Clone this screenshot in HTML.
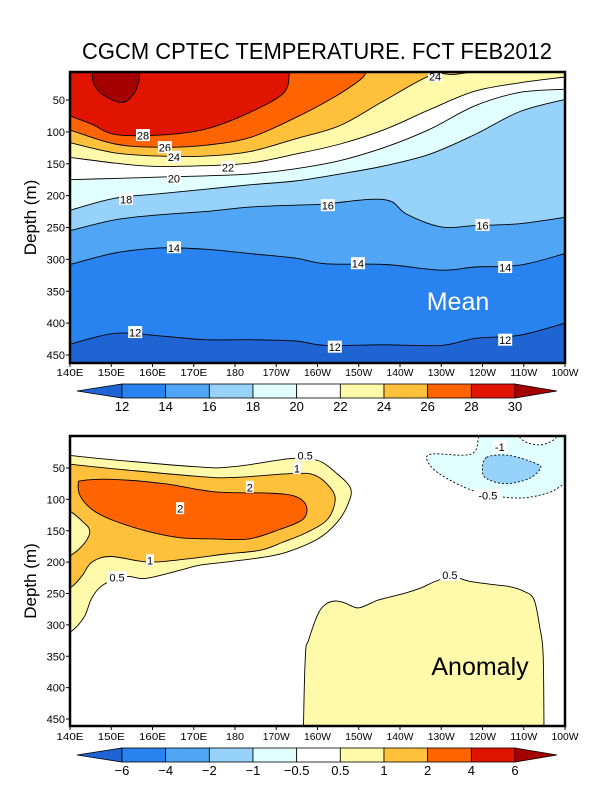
<!DOCTYPE html>
<html><head><meta charset="utf-8">
<style>
html,body{margin:0;padding:0;background:#fff;}
svg{display:block;font-family:"Liberation Sans",sans-serif;}
</style></head>
<body>
<svg id="chart" width="600" height="800" viewBox="0 0 600 800" xmlns="http://www.w3.org/2000/svg">
<text x="317" y="59" text-anchor="middle" font-size="23" textLength="470" lengthAdjust="spacingAndGlyphs">CGCM CPTEC TEMPERATURE. FCT FEB2012</text>
<defs>
<clipPath id="clipTop"><rect x="70" y="72" width="495" height="291"/></clipPath>
<clipPath id="clipBot"><rect x="70" y="436" width="495" height="290"/></clipPath>
</defs>
<g id="top"></g>
<g id="bot"></g>
</svg>
<script>
// ---------- data ----------
const lonTicks = [140,150,160,170,180,190,200,210,220,230,240,250,260];
const lonTickLabels = ["140E","150E","160E","170E","180","170W","160W","150W","140W","130W","120W","110W","100W"];
const depthTicks = [50,100,150,200,250,300,350,400,450];

// Mean: isotherm levels and their [lon, depth] points
const meanLevels = [12,14,16,18,20,22,24,26,28,30];
const iso12 = [[140,433],[150.9,416],[161.8,420],[172.7,426],[183.6,426],[194.6,428],[202,435],[216.4,434],[230,435],[238.2,424],[249.1,419],[260,400]];
const iso14 = [[140,308],[150.9,290],[161.8,282],[172.7,284],[183.6,291],[194.6,298],[202,307],[216.4,308],[230,317],[238.2,312],[249.1,309],[260,291]];
const iso16 = [[140,255],[150.9,238],[161.8,230],[172.7,225],[183.6,218],[194.6,215],[202,213],[212.3,206],[217.9,209],[221.6,229],[230,249],[238.2,247],[249.1,244],[260,234]];
const iso18 = [[140,223],[150.9,204],[161.8,197],[172.7,190],[183.6,183],[194.6,177],[205.5,166],[216.4,153],[227.2,135],[238.2,104],[249.1,68],[260,49]];
const iso20 = [[140,175],[150.9,173],[161.8,171],[172.7,169],[183.6,166],[194.6,158],[205.5,145],[216.4,124],[227.2,96],[238.2,59],[249.1,38],[260,33]];
const iso22 = [[140,140],[150.9,149],[160.2,154],[172.7,153],[183.6,149],[194.6,135],[205.5,119],[216.4,96],[227.2,65],[238.2,36],[249.1,23],[260,14]];
const iso24 = [[140,117],[150.9,133],[161.8,138],[172.7,138],[183.6,131],[194.6,111],[205.5,90],[215.9,52],[227.2,12],[233,10],[237.5,6]];
const iso26 = [[140,97],[150.9,119],[161.8,124],[172.7,121],[183.6,109],[194.6,78],[203.9,46],[210.4,18],[211.8,6]];
const iso28 = [[140,75],[145.3,88],[150.9,104],[161.8,105],[172.7,96],[183.4,70],[191.8,39],[193.2,6]];
const iso30 = [[145.3,6],[145.8,25],[148,42],[152.6,54],[155.5,40],[156.7,20],[156.9,6]];
const meanIsos = [iso12,iso14,iso16,iso18,iso20,iso22,iso24,iso26,iso28,iso30];
const meanColors = ["#1e64d2","#2882f0","#50a5f5","#96d2fa","#e1ffff","#ffffff","#fffaaa","#ffc03c","#ff6400","#e11400","#a50000"];
const meanLabels = [[157.7,105,"28"],[163,124,"26"],[165.2,139,"24"],[178.3,155,"22"],[165.2,172,"20"],[153.6,205,"18"],[202.5,215,"16"],[240,246,"16"],[165.2,281,"14"],[209.8,306,"14"],[245.5,312,"14"],[155.8,414,"12"],[204.2,437,"12"],[245.5,426,"12"],[228.5,12,"24"]];
const meanBarLabels = ["12","14","16","18","20","22","24","26","28","30"];

// Anomaly: closed contour regions [lon, depth] (points outside the frame close regions along edges)
const anom05 = [[140,30],[170.4,48],[179.6,48],[193.6,35],[200.1,38],[204.7,59],[208,82],[207.5,106],[204.7,137],[200.1,163],[192.6,184],[187.1,192],[177.8,200],[171.3,205],[166.6,213],[158.3,226],[153.6,223],[148.1,236],[145.3,257],[143.4,288],[140,312],[134,330],[134,20]];
const anom1 = [[140,44],[170.4,63],[179.6,65],[193.6,59],[199.2,61],[202.9,80],[204.3,101],[202.4,132],[197.3,153],[191.7,168],[186.2,181],[177.8,187],[169.4,194],[159.2,200],[149.9,191],[145.3,200],[143,221],[140,241],[134,255],[134,35]];
const anom1Pocket = [[140,119],[143,135],[144.8,150],[143.5,170],[140,190],[136,200],[136,110]];
const anom2 = [[142,75],[143,70],[149.9,68],[162.9,75],[175,88],[188,90],[194.5,95],[197.3,111],[196.4,132],[190.8,148],[183.4,163],[175,163],[166.6,161],[158.3,150],[149.9,132],[145.3,116],[142.5,95]];
const anom05Deep = [[196.6,462],[197.1,346],[197.8,325],[200.1,283],[202,267],[204.3,262],[206.6,265],[209.8,273],[213.1,265],[214.9,260],[221.4,249],[225.1,241],[228.8,230],[232.5,223],[237.2,231],[242.8,236],[246.5,239],[250.2,247],[252.5,260],[253.9,304],[254.7,346],[254.9,462],[254.9,520],[196.6,520]];
const anomNeg05 = [[239.1,0],[237.2,28],[227.5,28],[227,43],[230.7,64],[238.6,88],[248.4,98],[255.8,90],[259.5,77],[262,72],[268,60],[268,-20],[240,-20]];
const anomNeg05Pocket = [[249,0],[251,10],[254,13],[256.5,8],[257.8,0],[256,-15],[250,-15]];
const anomNeg1 = [[241,33],[246.5,30],[253,43],[254,51],[251.2,67],[245.6,75],[241,67],[240,54]];
const anomColors = ["#1e64d2","#2882f0","#50a5f5","#96d2fa","#e1ffff","#ffffff","#fffaaa","#ffc03c","#ff6400","#e11400","#a50000"];
const anomLabels = [[197,29,"0.5"],[195,50,"1"],[183.6,80,"2"],[166.7,114,"2"],[159.4,197,"1"],[151.4,224,"0.5"],[232.1,220,"0.5"],[244.2,16,"-1"],[241.3,93,"-0.5"]];
const anomBarLabels = ["\u22126","\u22124","\u22122","\u22121","\u22120.5","0.5","1","2","4","6"];

// ---------- helpers ----------
const NS="http://www.w3.org/2000/svg";
function mk(tag,attrs,parent){const e=document.createElementNS(NS,tag);for(const k in attrs)e.setAttribute(k,attrs[k]);parent.appendChild(e);return e;}
const X0=70,X1=565;
function xS(lon){return X0+(lon-140)*(X1-X0)/120;}
function yTop(d){return 100+(d-50)*0.6375;}
function yBot(d){return 468+(d-50)*0.6275;}
function smooth(pts,closed){
  const n=pts.length;let s="M"+pts[0][0].toFixed(1)+","+pts[0][1].toFixed(1);
  const m=closed?n:n-1;
  for(let i=0;i<m;i++){
    const g=j=>closed?pts[(j+n)%n]:pts[Math.max(0,Math.min(n-1,j))];
    const p0=g(i-1),p1=g(i),p2=g(i+1),p3=g(i+2);
    const c1=[p1[0]+(p2[0]-p0[0])/6,p1[1]+(p2[1]-p0[1])/6];
    const c2=[p2[0]-(p3[0]-p1[0])/6,p2[1]-(p3[1]-p1[1])/6];
    s+=`C${c1[0].toFixed(1)},${c1[1].toFixed(1)} ${c2[0].toFixed(1)},${c2[1].toFixed(1)} ${p2[0].toFixed(1)},${p2[1].toFixed(1)}`;
  }
  return closed?s+"Z":s;
}
function axes(g,yS,top,bottom,tickY){
  mk("rect",{x:X0,y:top,width:X1-X0,height:bottom-top,fill:"none",stroke:"#000","stroke-width":2.5},g);
  lonTicks.forEach((l,i)=>{
    const t=mk("text",{x:xS(l),y:tickY,"text-anchor":"middle","font-size":10.5,textLength:i==4?18:27,lengthAdjust:"spacingAndGlyphs"},g);
    t.textContent=lonTickLabels[i];
    
    
    mk("line",{x1:xS(l),x2:xS(l),y1:bottom,y2:bottom+4,stroke:"#000"},g);
  });
  depthTicks.forEach(d=>{
    const t=mk("text",{x:65,y:yS(d)+4,"text-anchor":"end","font-size":11},g);
    t.textContent=d;
    
    
    mk("line",{x1:X0-4,x2:X0,y1:yS(d),y2:yS(d),stroke:"#000"},g);
  });
  const yt=mk("text",{x:0,y:0,"text-anchor":"middle","font-size":17,transform:`translate(36,${(top+bottom)/2}) rotate(-90)`},g);
  yt.textContent="Depth (m)";
  
  
}
function colorbar(g,y,colors,labels){
  const xL=77,xR=557,b0=122,bw=(515-b0)/9,h=14;
  const lt=mk("polygon",{points:`${xL},${y+h/2} ${b0},${y} ${b0},${y+h}`,fill:colors[0],stroke:"#000","stroke-width":0.8},g);
  
  
  for(let i=0;i<9;i++){
    const r=mk("rect",{x:b0+i*bw,y:y,width:bw,height:h,fill:colors[i+1],stroke:"#000","stroke-width":0.8},g);
    
    
  }
  const rt=mk("polygon",{points:`${b0+9*bw},${y} ${xR},${y+h/2} ${b0+9*bw},${y+h}`,fill:colors[10],stroke:"#000","stroke-width":0.8},g);
  
  
  labels.forEach((s,i)=>{
    const t=mk("text",{x:b0+i*bw,y:y+h+13,"text-anchor":"middle","font-size":13},g);
    t.textContent=s;
    
    
  });
}
function label(g,x,y,s){
  const w=s.length*6+2;
  const r=mk("rect",{x:x-w/2,y:y-6,width:w,height:12,fill:"#fff"},g);
  
  
  const t=mk("text",{x:x,y:y+4.5,"text-anchor":"middle","font-size":11},g);
  t.textContent=s;
  
  
}

// ---------- mean panel ----------
const gT=document.getElementById("top");
const cT=mk("g",{"clip-path":"url(#clipTop)"},gT);
mk("rect",{x:X0,y:72,width:X1-X0,height:291,fill:meanColors[0]},cT);
meanIsos.forEach((iso,k)=>{
  const p=iso.map(q=>[xS(q[0]),yTop(q[1])]);
  const last=p[p.length-1],first=p[0];
  const f=mk("path",{d:smooth(p,false)+`L${last[0]+(last[0]>=X1-1?5:0)},60 L${first[0]-(first[0]<=X0+1?5:0)},60Z`,fill:meanColors[k+1]},cT);
  
  
});
meanIsos.forEach((iso,k)=>{
  const p=iso.map(q=>[xS(q[0]),yTop(q[1])]);
  const l=mk("path",{d:smooth(p,false),fill:"none",stroke:"#000","stroke-width":0.9},cT);
  
  
});
meanLabels.forEach(q=>label(cT,xS(q[0]),yTop(q[1]),q[2]));
const mt=mk("text",{x:458,y:310,"text-anchor":"middle","font-size":25,fill:"#fff"},gT);
mt.textContent="Mean";


axes(gT,yTop,72,363,376);
colorbar(gT,384,meanColors,meanBarLabels);

// ---------- anomaly panel ----------
const gB=document.getElementById("bot");
const cB=mk("g",{"clip-path":"url(#clipBot)"},gB);
mk("rect",{x:X0,y:436,width:X1-X0,height:290,fill:"#fff"},cB);
function region(pts,fill,name,dashed){
  const p=pts.map(q=>[xS(q[0]),yBot(q[1])]);
  const r=mk("path",{d:smooth(p,true),fill:fill,stroke:"#000","stroke-width":0.9,"stroke-dasharray":dashed?"2,2":"none"},cB);
  
  
}
region(anom05,anomColors[6],"anomaly-region-0.5",false);
region(anom1,anomColors[7],"anomaly-region-1",false);
region(anom1Pocket,anomColors[6],"anomaly-pocket-below-1",false);
region(anom2,anomColors[8],"anomaly-region-2",false);
region(anom05Deep,anomColors[6],"anomaly-deep-region-0.5",false);
region(anomNeg05,anomColors[4],"anomaly-region-neg-0.5",true);
region(anomNeg05Pocket,"#ffffff","anomaly-pocket-above-neg-0.5",true);
region(anomNeg1,anomColors[3],"anomaly-region-neg-1",true);
anomLabels.forEach(q=>label(cB,xS(q[0]),yBot(q[1]),q[2]));
const at=mk("text",{x:480,y:675,"text-anchor":"middle","font-size":25,fill:"#000"},gB);
at.textContent="Anomaly";


axes(gB,yBot,436,726,740);
colorbar(gB,748,anomColors,anomBarLabels);
</script>
</body></html>
